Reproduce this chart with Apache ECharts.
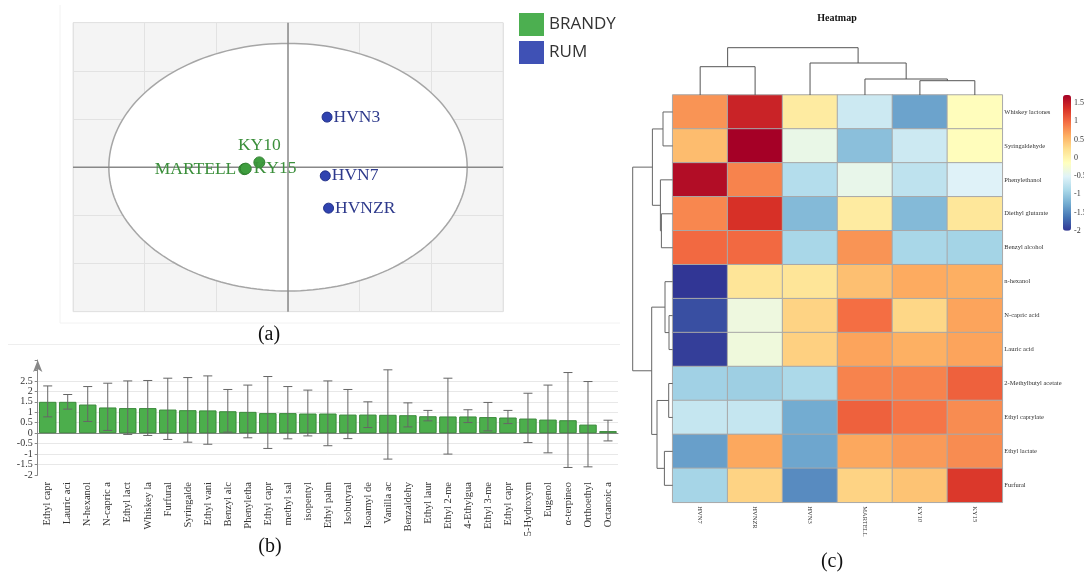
<!DOCTYPE html>
<html><head><meta charset="utf-8">
<script src="https://cdn.jsdelivr.net/npm/echarts@6/dist/echarts.min.js"></script>
<style>html,body{margin:0;padding:0;background:#fff}#c{width:1084px;height:572px}</style>
</head><body><div id="c"></div>
<script>
// ---------- Panel (a): PCA scores ----------
const brandyNames = ['MARTELL', 'KY15', 'KY10'];
const brandyX = [-0.61, -0.59, -0.40];
const brandyY = [-0.04, -0.03, 0.10];
const rumNames = ['HVN3', 'HVN7', 'HVNZR'];
const rumX = [0.545, 0.52, 0.566];
const rumY = [1.04, -0.18, -0.85];
const ellipseCenter = [0, 0];
const ellipseRadii = [2.5, 2.57];

// ---------- Panel (b): bar chart ----------
const barLabels = ['Ethyl capr', 'Lauric aci', 'N-hexanol', 'N-capric a', 'Ethyl lact', 'Whiskey la', 'Furfural', 'Syringalde', 'Ethyl vani', 'Benzyl alc', 'Phenyletha', 'Ethyl capr', 'methyl sal', 'isopentyl', 'Ethyl palm', 'Isobutyral', 'Isoamyl de', 'Vanilla ac', 'Benzaldehy', 'Ethyl laur', 'Ethyl 2-me', '4-Ethylgua', 'Ethyl 3-me', 'Ethyl capr', '5-Hydroxym', 'Eugenol', 'α-terpineo', 'Orthoethyl', 'Octanoic a'];
const barValues = [1.50, 1.50, 1.37, 1.23, 1.20, 1.20, 1.13, 1.10, 1.09, 1.05, 1.02, 0.96, 0.96, 0.94, 0.94, 0.89, 0.89, 0.88, 0.86, 0.81, 0.80, 0.80, 0.77, 0.75, 0.70, 0.65, 0.62, 0.41, 0.10];
const errHigh = [2.26, 1.85, 2.23, 2.39, 2.50, 2.52, 2.63, 2.66, 2.74, 2.09, 2.30, 2.71, 2.23, 2.06, 2.50, 2.09, 1.50, 3.03, 1.45, 1.09, 2.63, 1.12, 1.47, 1.09, 1.91, 2.30, 2.90, 2.47, 0.62];
const errLow = [0.78, 1.15, 0.56, 0.13, -0.06, -0.11, -0.30, -0.43, -0.53, 0.05, -0.22, -0.73, -0.27, -0.13, -0.60, -0.26, 0.27, -1.24, 0.30, 0.59, -1.00, 0.51, 0.11, 0.46, -0.45, -0.94, -1.64, -1.61, -0.37];
const barTicks = [-2, 3.5, 0.5];

// ---------- Panel (c): heatmap ----------
const heatCols = ['HVN7', 'HVNZR', 'HVN3', 'MARTELL', 'KY10', 'KY15'];
const heatRows = ['Whiskey lactones', 'Syringaldehyde', 'Phenylethanol', 'Diethyl glutarate', 'Benzyl alcohol', 'n-hexanol', 'N-capric acid', 'Lauric acid', '2-Methylbutyl acetate', 'Ethyl caprylate', 'Ethyl lactate', 'Furfural'];
const rowWhiskey   = [0.75, 1.45, 0.10, -0.65, -1.32, -0.12];
const rowSyring    = [0.50, 1.72, -0.40, -1.10, -0.65, -0.12];
const rowPhenyl    = [1.62, 0.85, -0.82, -0.42, -0.75, -0.52];
const rowDiethyl   = [0.83, 1.35, -1.15, 0.10, -1.15, 0.15];
const rowBenzyl    = [1.00, 1.00, -0.90, 0.75, -0.90, -0.93];
const rowHexanol   = [-2.00, 0.17, 0.17, 0.48, 0.62, 0.60];
const rowCapric    = [-1.85, -0.35, 0.33, 0.97, 0.30, 0.66];
const rowLauric    = [-1.95, -0.33, 0.35, 0.66, 0.59, 0.66];
const rowMethylbut = [-0.95, -0.97, -0.88, 0.85, 0.85, 1.05];
const rowCaprylate = [-0.70, -0.70, -1.26, 1.05, 0.93, 0.80];
const rowLactate   = [-1.35, 0.64, -1.30, 0.64, 0.72, 0.80];
const rowFurfural  = [-0.92, 0.33, -1.48, 0.33, 0.45, 1.30];
const heatValues = [rowWhiskey, rowSyring, rowPhenyl, rowDiethyl, rowBenzyl, rowHexanol, rowCapric, rowLauric, rowMethylbut, rowCaprylate, rowLactate, rowFurfural];
const colorRange = [-2, 1.72];
const colorTicks = [-2, 0.5];
// dendrograms (hclust-style: negative = leaf, positive = earlier merge)
const colMerge = [[-5, -6], [-4, 1], [-1, -2], [-3, 2], [3, 4]];
const colHeight = [1.43, 1.60, 2.83, 3.20, 4.73];
const rowMerge = [[-1, -2], [-4, -5], [-3, 2], [1, 3], [-7, -8], [-6, 5], [-9, -10], [-11, -12], [7, 8], [6, 9], [4, 10]];
const rowHeight = [0.97, 1.13, 1.23, 2.03, 0.37, 0.77, 0.40, 0.83, 1.57, 2.10, 4.00];

const RdYlBu = ['#313695', '#4575b4', '#74add1', '#abd9e9', '#e0f3f8', '#ffffbf', '#fee090', '#fdae61', '#f46d43', '#d73027', '#a50026'];
const SERIF = 'Liberation Serif';

function dendroSegments(merge, height) {
  const pos = [], h = [], segs = [];
  merge.forEach((m, i) => {
    const p = m.map(k => k < 0 ? -k - 1 : pos[k - 1]);
    const hh = m.map(k => k < 0 ? 0 : h[k - 1]);
    pos[i] = (p[0] + p[1]) / 2; h[i] = height[i];
    segs.push([p[0], p[1], hh[0], hh[1], height[i]]);
  });
  return segs;
}

const heatData = [];
heatValues.forEach((row, r) => row.forEach((v, c) => heatData.push([c, r, v])));

const labelPos = { MARTELL: 'left', KY15: 'right', KY10: 'top', HVN3: 'right', HVN7: 'right', HVNZR: 'right' };
function pts(names, xs, ys) {
  return names.map((n, i) => ({ name: n, value: [xs[i], ys[i]], label: { position: labelPos[n] } }));
}

const hidden = { show: false };
const G = { outerBoundsMode: 'none', containLabel: false };
const chart = echarts.init(document.getElementById('c'), null, { renderer: 'canvas' });
chart.setOption({
  animation: false,
  backgroundColor: '#fff',
  grid: [
    Object.assign({ left: 73, top: 22.7, width: 430, height: 289, show: true, backgroundColor: '#f4f4f4', borderColor: '#e6e6e6', borderWidth: 1 }, G),
    Object.assign({ left: 37.7, top: 360, width: 580.3, height: 115 }, G),
    Object.assign({ left: 672.7, top: 95, width: 329.6, height: 407.3 }, G),
    Object.assign({ left: 672.7, top: 45, width: 329.6, height: 50 }, G),
    Object.assign({ left: 630, top: 95, width: 42.7, height: 407.3 }, G),
    Object.assign({ left: 1063, top: 95, width: 8, height: 135.7 }, G)
  ],
  xAxis: [
    { gridIndex: 0, type: 'value', min: -3, max: 3, interval: 1, axisLine: hidden, axisTick: hidden, axisLabel: hidden, splitLine: { lineStyle: { color: '#e2e2e2', width: 1 } } },
    { gridIndex: 1, type: 'category', data: barLabels, boundaryGap: true,
      axisLine: { lineStyle: { color: '#888' } }, axisTick: { alignWithLabel: true, length: 4, lineStyle: { color: '#888' } },
      axisLabel: { interval: 0, rotate: 90, margin: 7, fontFamily: SERIF, fontSize: 10.5, color: '#333' } },
    { gridIndex: 2, type: 'category', data: heatCols, axisLine: hidden, axisTick: hidden,
      axisLabel: { interval: 0, rotate: -90, margin: 4, fontFamily: SERIF, fontSize: 6.5, color: '#333' } },
    { gridIndex: 3, type: 'value', min: -0.5, max: 5.5, show: false },
    { gridIndex: 4, type: 'value', min: 0, max: 4.27, inverse: true, show: false },
    { gridIndex: 5, type: 'value', show: false, min: 0, max: 1 }
  ],
  yAxis: [
    { gridIndex: 0, type: 'value', min: -3, max: 3, interval: 1, axisLine: hidden, axisTick: hidden, axisLabel: hidden, splitLine: { lineStyle: { color: '#e2e2e2', width: 1 } } },
    { gridIndex: 1, type: 'value', min: barTicks[0], max: barTicks[1], interval: barTicks[2],
      axisLine: { show: true, symbol: ['none', 'arrow'], symbolSize: [7, 12], lineStyle: { color: '#888' } },
      axisTick: { show: true, length: 3, lineStyle: { color: '#888' } },
      axisLabel: { showMinLabel: true, showMaxLabel: true, hideOverlap: false, margin: 5, fontFamily: SERIF, fontSize: 10, lineHeight: 8, color: '#333', formatter: v => v > 2.5 ? '' : String(v) },
      splitLine: { show: true, lineStyle: { color: ['rgba(0,0,0,0)', '#e8e8e8', '#e8e8e8', '#e8e8e8', '#e8e8e8', '#e8e8e8', '#e8e8e8', '#e8e8e8', '#e8e8e8', '#e8e8e8', 'rgba(0,0,0,0)', 'rgba(0,0,0,0)'] } } },
    { gridIndex: 2, type: 'category', data: heatRows, inverse: true, position: 'right', axisLine: hidden, axisTick: hidden,
      axisLabel: { interval: 0, margin: 2, fontFamily: SERIF, fontSize: 6.5, color: '#333' } },
    { gridIndex: 3, type: 'value', min: 0, max: 5, show: false },
    { gridIndex: 4, type: 'value', min: -0.5, max: 11.5, inverse: true, show: false },
    { gridIndex: 5, type: 'value', position: 'right', min: colorRange[0], max: colorRange[1], interval: colorTicks[1],
      axisLine: hidden, axisTick: hidden, splitLine: hidden,
      axisLabel: { showMaxLabel: false, showMinLabel: true, margin: 3, fontFamily: SERIF, fontSize: 8, color: '#333' } }
  ],
  legend: {
    data: [{ name: 'BRANDY', itemStyle: { color: '#4caf50', borderWidth: 0, opacity: 1 } }, { name: 'RUM', itemStyle: { color: '#3f51b5', borderWidth: 0, opacity: 1 } }],
    orient: 'vertical', left: 519, top: 13, itemWidth: 25, itemHeight: 23, itemGap: 5, icon: 'rect', padding: 0,
    selectedMode: false, textStyle: { fontFamily: 'Open Sans', fontSize: 17, color: '#333', padding: [0, 0, 0, 0] }
  },
  visualMap: {
    type: 'continuous', seriesIndex: 5, min: colorRange[0], max: colorRange[1], calculable: false, show: true,
    left: 1063, top: 95, itemWidth: 8, itemHeight: 135.7, padding: 0, text: null, showLabel: false,
    inRange: { color: RdYlBu }
  },
  series: [
    { // 0: ellipse + crosshair
      type: 'custom', xAxisIndex: 0, yAxisIndex: 0, z: 1, silent: true,
      data: [[ellipseCenter[0], ellipseCenter[1], ellipseRadii[0], ellipseRadii[1]]],
      renderItem: (params, api) => {
        const cx = api.value(0), cy = api.value(1), rx = api.value(2), ry = api.value(3);
        const poly = [];
        for (let k = 0; k < 180; k++) { const t = k / 180 * Math.PI * 2; poly.push(api.coord([cx + rx * Math.cos(t), cy + ry * Math.sin(t)])); }
        const h1 = api.coord([-3, 0]), h2 = api.coord([3, 0]), v1 = api.coord([0, -3]), v2 = api.coord([0, 3]);
        return { type: 'group', children: [
          { type: 'polygon', shape: { points: poly }, style: { fill: '#fff', stroke: '#a6a6a6', lineWidth: 1.5 } },
          { type: 'line', shape: { x1: h1[0], y1: h1[1], x2: h2[0], y2: h2[1] }, style: { stroke: '#888', lineWidth: 1.5 } },
          { type: 'line', shape: { x1: v1[0], y1: v1[1], x2: v2[0], y2: v2[1] }, style: { stroke: '#888', lineWidth: 1.5 } }
        ] };
      }
    },
    { // 1: brandy
      name: 'BRANDY', type: 'scatter', xAxisIndex: 0, yAxisIndex: 0, z: 3, symbolSize: 11,
      itemStyle: { color: '#3f9e3f', borderColor: '#2f7f2f', borderWidth: 1, opacity: 1 },
      label: { show: true, formatter: '{b}', distance: 2, fontFamily: SERIF, fontSize: 17.5, color: '#3b8f3b' },
      data: pts(brandyNames, brandyX, brandyY)
    },
    { // 2: rum
      name: 'RUM', type: 'scatter', xAxisIndex: 0, yAxisIndex: 0, z: 3, symbolSize: 10,
      itemStyle: { color: '#3043b0', borderColor: '#22318a', borderWidth: 1, opacity: 1 },
      label: { show: true, formatter: '{b}', distance: 1, fontFamily: SERIF, fontSize: 17.5, color: '#2e3a8c' },
      data: pts(rumNames, rumX, rumY)
    },
    { // 3: bars
      type: 'bar', xAxisIndex: 1, yAxisIndex: 1, barWidth: 17.5, data: barValues,
      itemStyle: { color: '#4cae4c', borderColor: '#3a8a3a', borderWidth: 1 }
    },
    { // 4: error bars
      type: 'custom', xAxisIndex: 1, yAxisIndex: 1, z: 4,
      data: barValues.map((v, i) => [i, errLow[i], errHigh[i]]),
      encode: { x: 0, y: [1, 2] },
      renderItem: (params, api) => {
        const i = api.value(0), lo = api.coord([i, api.value(1)]), hi = api.coord([i, api.value(2)]);
        const w = 4.5, st = { stroke: '#666', lineWidth: 1 };
        return { type: 'group', children: [
          { type: 'line', shape: { x1: lo[0], y1: lo[1], x2: hi[0], y2: hi[1] }, style: st },
          { type: 'line', shape: { x1: hi[0] - w, y1: hi[1], x2: hi[0] + w, y2: hi[1] }, style: st },
          { type: 'line', shape: { x1: lo[0] - w, y1: lo[1], x2: lo[0] + w, y2: lo[1] }, style: st }
        ] };
      }
    },
    { // 5: heatmap
      type: 'heatmap', xAxisIndex: 2, yAxisIndex: 2, data: heatData,
      itemStyle: { borderColor: '#a8a8a8', borderWidth: 1 }
    },
    { // 6: column dendrogram
      type: 'custom', xAxisIndex: 3, yAxisIndex: 3, silent: true,
      data: dendroSegments(colMerge, colHeight),
      renderItem: (params, api) => {
        const a = api.value(0), b = api.value(1), ha = api.value(2), hb = api.value(3), h = api.value(4);
        return { type: 'polyline', shape: { points: [api.coord([a, ha]), api.coord([a, h]), api.coord([b, h]), api.coord([b, hb])] }, style: { stroke: '#555', lineWidth: 1, fill: null } };
      }
    },
    { // 7: row dendrogram
      type: 'custom', xAxisIndex: 4, yAxisIndex: 4, silent: true,
      data: dendroSegments(rowMerge, rowHeight),
      renderItem: (params, api) => {
        const a = api.value(0), b = api.value(1), ha = api.value(2), hb = api.value(3), h = api.value(4);
        return { type: 'polyline', shape: { points: [api.coord([ha, a]), api.coord([h, a]), api.coord([h, b]), api.coord([hb, b])] }, style: { stroke: '#666', lineWidth: 1, fill: null } };
      }
    }
  ],
  graphic: [
    { type: 'line', shape: { x1: 60, y1: 5, x2: 60, y2: 323 }, style: { stroke: '#f2f2f2', lineWidth: 1 }, silent: true },
    { type: 'line', shape: { x1: 60, y1: 323, x2: 620, y2: 323 }, style: { stroke: '#f2f2f2', lineWidth: 1 }, silent: true },
    { type: 'line', shape: { x1: 8, y1: 344.5, x2: 620, y2: 344.5 }, style: { stroke: '#eeeeee', lineWidth: 1 }, silent: true },
    { type: 'text', x: 269, y: 335, style: { text: '(a)', font: '20px "Liberation Serif"', fill: '#111', align: 'center', verticalAlign: 'middle' } },
    { type: 'text', x: 270, y: 547, style: { text: '(b)', font: '20px "Liberation Serif"', fill: '#111', align: 'center', verticalAlign: 'middle' } },
    { type: 'text', x: 832, y: 562, style: { text: '(c)', font: '20px "Liberation Serif"', fill: '#111', align: 'center', verticalAlign: 'middle' } },
    { type: 'text', x: 837, y: 18, style: { text: 'Heatmap', font: 'bold 10px "Liberation Serif"', fill: '#111', align: 'center', verticalAlign: 'middle' } }
  ]
});
</script></body></html>
